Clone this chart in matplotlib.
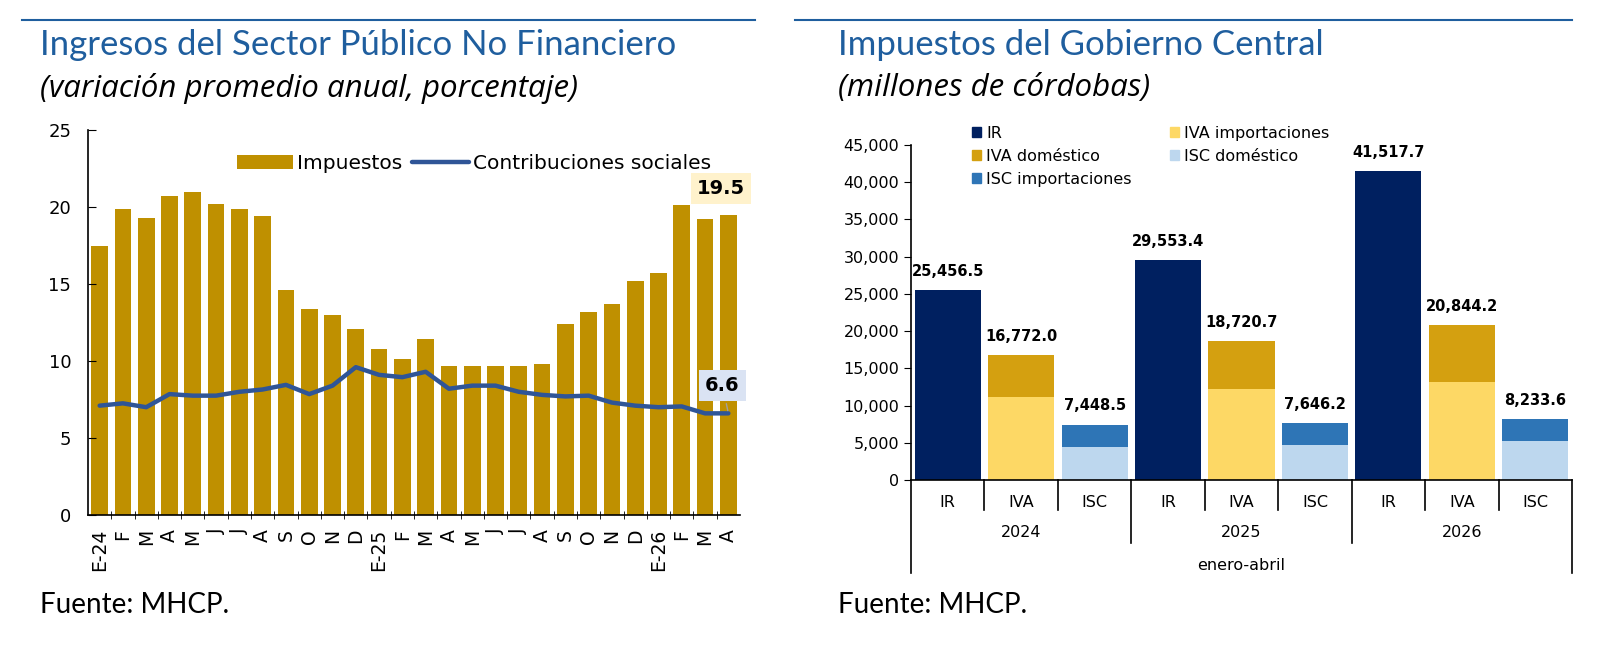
import matplotlib.pyplot as plt
import numpy as np
from matplotlib.patches import Patch
from matplotlib.lines import Line2D

# --- datos panel izquierdo (variación promedio anual, %) ---
meses = ["E-24", "F", "M", "A", "M", "J", "J", "A", "S", "O", "N", "D",
         "E-25", "F", "M", "A", "M", "J", "J", "A", "S", "O", "N", "D",
         "E-26", "F", "M", "A"]
impuestos = [17.5, 19.9, 19.3, 20.7, 21.0, 20.2, 19.9, 19.4, 14.6, 13.4, 13.0, 12.1,
             10.8, 10.1, 11.4, 9.7, 9.7, 9.7, 9.7, 9.8, 12.4, 13.2, 13.7, 15.2,
             15.7, 20.1, 19.2, 19.5]
contribuciones = [7.1, 7.25, 7.0, 7.85, 7.75, 7.75, 8.0, 8.15, 8.45, 7.85, 8.4, 9.6,
                  9.1, 8.95, 9.3, 8.2, 8.4, 8.4, 8.0, 7.8, 7.7, 7.75, 7.3, 7.1,
                  7.0, 7.05, 6.6, 6.6]

# --- datos panel derecho (millones de córdobas, enero-abril) ---
anios = ["2024", "2025", "2026"]
categorias = ["IR", "IVA", "ISC"]
ir = [25456.5, 29553.4, 41517.7]
iva_total = [16772.0, 18720.7, 20844.2]
iva_importaciones = [11100.0, 12270.0, 13160.0]
isc_total = [7448.5, 7646.2, 8233.6]
isc_domestico = [4480.0, 4700.0, 5240.0]

AZUL_TIT = "#1F5E9E"
ORO = "#BF9000"
LINEA = "#2F5597"
C_IR = "#002060"
C_IVA_IMP = "#FDD865"
C_IVA_DOM = "#D4A010"
C_ISC_DOM = "#BDD7EE"
C_ISC_IMP = "#2E75B6"

plt.rcParams["font.family"] = ["DejaVu Sans"]

fig = plt.figure(figsize=(16.14, 6.70), dpi=100)

# encabezados
for x0, x1 in [(22 / 1614, 755 / 1614), (795 / 1614, 1572 / 1614)]:
    fig.add_artist(Line2D([x0, x1], [1 - 20 / 670] * 2, color=AZUL_TIT, lw=1.5))
fig.text(40 / 1614, 1 - 45 / 670, "Ingresos del Sector Público No Financiero",
         family="Lato", fontsize=25, color=AZUL_TIT, va="center")
fig.text(40 / 1614, 1 - 88 / 670, "(variación promedio anual, porcentaje)",
         family="Open Sans", style="italic", fontsize=22.5, color="black", va="center")
fig.text(838 / 1614, 1 - 45 / 670, "Impuestos del Gobierno Central",
         family="Lato", fontsize=25, color=AZUL_TIT, va="center")
fig.text(838 / 1614, 1 - 88 / 670, "(millones de córdobas)",
         family="Open Sans", style="italic", fontsize=22.5, color="black", va="center")
fig.text(40 / 1614, 1 - 605 / 670, "Fuente: MHCP.", family="Lato", fontsize=20, va="center")
fig.text(838 / 1614, 1 - 605 / 670, "Fuente: MHCP.", family="Lato", fontsize=20, va="center")

# ---------------- panel izquierdo ----------------
ax1 = fig.add_axes([88 / 1614, 1 - 515 / 670, 652 / 1614, 385 / 670])
x = np.arange(len(meses))
barras = ax1.bar(x, impuestos, width=0.72, color=ORO, label="Impuestos")
linea, = ax1.plot(x, contribuciones, color=LINEA, lw=3.2, solid_capstyle="round",
                  label="Contribuciones sociales")
ax1.set_xlim(-0.5, len(meses) - 0.5)
ax1.set_ylim(0, 25)
ax1.set_yticks([0, 5, 10, 15, 20, 25])
ax1.tick_params(axis="y", direction="in", length=6, labelsize=13, pad=12)
ax1.set_xticks(x)
ax1.set_xticklabels(meses, rotation=90, fontsize=13.5)
ax1.tick_params(axis="x", length=0, pad=10)
ax1.set_xticks(x[:-1] + 0.5, minor=True)
ax1.tick_params(axis="x", which="minor", direction="inout", length=6)
for s in ["top", "right"]:
    ax1.spines[s].set_visible(False)
for s in ["left", "bottom"]:
    ax1.spines[s].set_linewidth(1.2)
ax1.legend(handles=[barras, linea], loc="upper left", bbox_to_anchor=(0.2, 0.985),
           ncol=2, frameon=False, fontsize=14.5, handlelength=2.8, columnspacing=0.5,
           handletextpad=0.2)

ax1.annotate(f"{impuestos[-1]:.1f}", xy=(x[-1], impuestos[-1]), xytext=(x[-1] - 0.3, 21.2),
             ha="center", va="center", fontsize=14, fontweight="bold",
             bbox=dict(boxstyle="square,pad=0.3", fc="#FFF2CC", ec="none"))
ax1.annotate(f"{contribuciones[-1]:.1f}", xy=(x[-1], contribuciones[-1]),
             xytext=(x[-1] - 0.25, 8.4), ha="center", va="center",
             fontsize=14, fontweight="bold",
             bbox=dict(boxstyle="square,pad=0.3", fc="#DAE3F3", ec="none"),
             arrowprops=dict(arrowstyle="-", color="#A0A0A0", lw=1))

# ---------------- panel derecho ----------------
ax2 = fig.add_axes([911 / 1614, 1 - 480 / 670, 661 / 1614, 335 / 670])
g = np.arange(len(anios))
w = 0.9
iva_dom = np.array(iva_total) - np.array(iva_importaciones)
isc_imp = np.array(isc_total) - np.array(isc_domestico)
ax2.bar(3 * g, ir, width=w, color=C_IR)
ax2.bar(3 * g + 1, iva_importaciones, width=w, color=C_IVA_IMP)
ax2.bar(3 * g + 1, iva_dom, bottom=iva_importaciones, width=w, color=C_IVA_DOM)
ax2.bar(3 * g + 2, isc_domestico, width=w, color=C_ISC_DOM)
ax2.bar(3 * g + 2, isc_imp, bottom=isc_domestico, width=w, color=C_ISC_IMP)

for serie, off in [(ir, 0), (iva_total, 1), (isc_total, 2)]:
    for i, v in enumerate(serie):
        ax2.annotate(f"{v:,.1f}", xy=(3 * i + off, v), xytext=(0, 8),
                     textcoords="offset points", ha="center", va="bottom",
                     fontsize=10.5, fontweight="bold")

ax2.set_xlim(-0.5, 8.5)
ax2.set_ylim(0, 45000)
ax2.set_yticks(np.arange(0, 45001, 5000))
ax2.set_yticklabels([f"{int(t):,}" for t in np.arange(0, 45001, 5000)])
ax2.tick_params(axis="y", direction="out", length=5, labelsize=11.5)
ax2.set_xticks([])
for s in ["top", "right"]:
    ax2.spines[s].set_visible(False)
for s in ["left", "bottom"]:
    ax2.spines[s].set_linewidth(1.2)

trans = ax2.get_xaxis_transform()
for k in range(10):
    xb = k - 0.5
    if k in (0, 9):
        y0 = -0.278
    elif k % 3 == 0:
        y0 = -0.188
    else:
        y0 = -0.09
    ax2.add_line(Line2D([xb, xb], [0, y0], transform=trans, color="black", lw=1.2, clip_on=False))
for i in range(len(anios)):
    for j, c in enumerate(categorias):
        ax2.text(3 * i + j, -0.066, c, transform=trans, ha="center", va="center", fontsize=11.5)
    ax2.text(3 * i + 1, -0.158, anios[i], transform=trans, ha="center", va="center", fontsize=11.5)
ax2.text(4, -0.254, "enero-abril", transform=trans, ha="center", va="center", fontsize=11.5)

handles = [Patch(color=C_IR, label="IR"),
           Patch(color=C_IVA_DOM, label="IVA doméstico"),
           Patch(color=C_ISC_IMP, label="ISC importaciones"),
           Patch(color=C_IVA_IMP, label="IVA importaciones"),
           Patch(color=C_ISC_DOM, label="ISC doméstico")]
ax2.legend(handles=handles, loc="upper left", bbox_to_anchor=(0.07, 1.1), ncol=2,
           frameon=False, fontsize=11.5, handlelength=0.6, handleheight=0.6,
           handletextpad=0.3, columnspacing=2.4, labelspacing=0.5)

fig.savefig("out.png", dpi=100)
